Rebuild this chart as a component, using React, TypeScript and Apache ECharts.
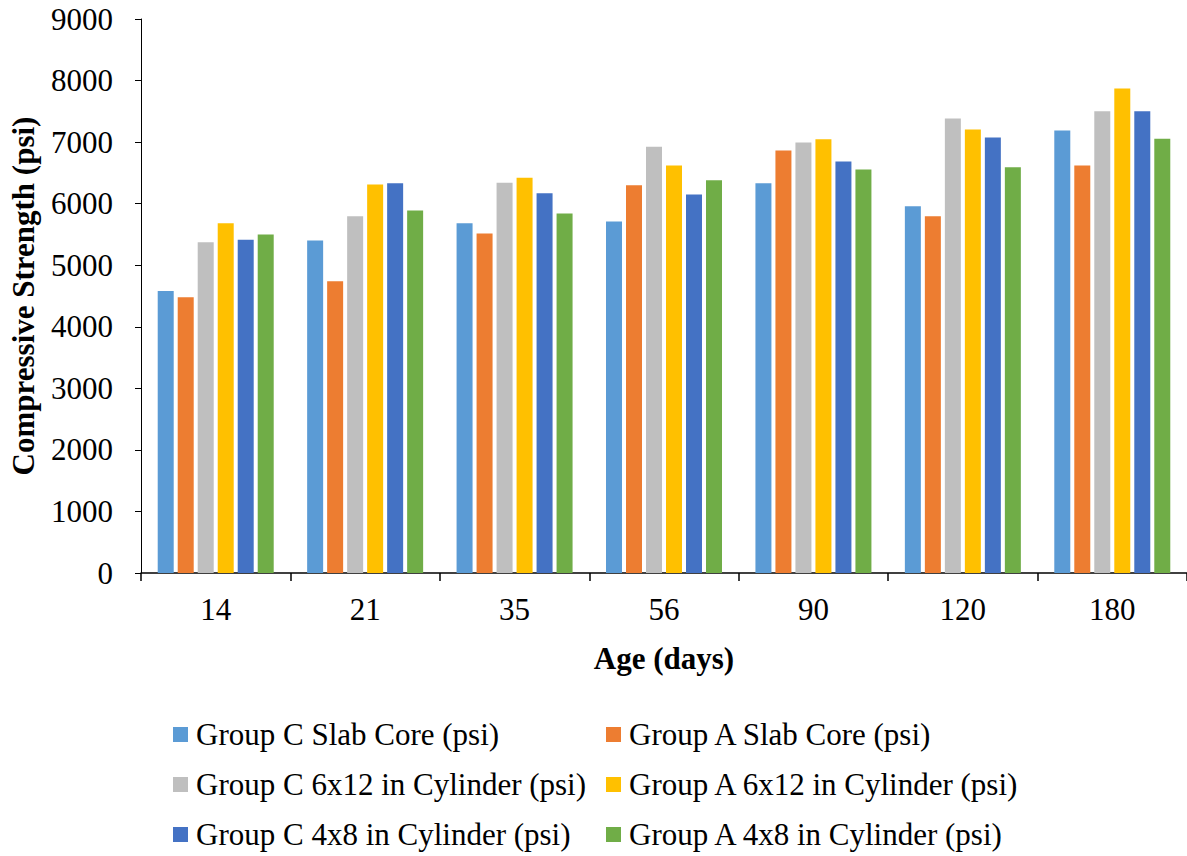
import React, { useEffect, useRef } from "react";
import * as echarts from "echarts";

const categories = ["14", "21", "35", "56", "90", "120", "180"];
const seriesNames = [
  "Group C Slab Core (psi)",
  "Group A Slab Core (psi)",
  "Group C 6x12 in Cylinder (psi)",
  "Group A 6x12 in Cylinder (psi)",
  "Group C 4x8 in Cylinder (psi)",
  "Group A 4x8 in Cylinder (psi)",
];
const colors = ["#5B9BD5", "#ED7D31", "#BFBFBF", "#FFC000", "#4472C4", "#70AD47"];

const groupCSlabCore = [4580, 5400, 5680, 5710, 6330, 5960, 7190];
const groupASlabCore = [4480, 4740, 5515, 6300, 6865, 5795, 6620];
const groupC6x12 = [5375, 5795, 6340, 6925, 6995, 7385, 7500];
const groupA6x12 = [5680, 6310, 6420, 6620, 7045, 7205, 7870];
const groupC4x8 = [5415, 6330, 6170, 6150, 6685, 7075, 7500];
const groupA4x8 = [5500, 5890, 5840, 6380, 6555, 6590, 7055];

const seriesValues = [groupCSlabCore, groupASlabCore, groupC6x12, groupA6x12, groupC4x8, groupA4x8];

const FONT = "'Liberation Serif', 'Times New Roman', serif";
const FS = 31;

export default function App() {
  const ref = useRef<HTMLDivElement>(null);
  useEffect(() => {
    if (!ref.current) return;
    const chart = echarts.init(ref.current, null, { renderer: "svg" });
    const legendPos = [
      { left: 173, top: 719 },
      { left: 606, top: 719 },
      { left: 173, top: 769 },
      { left: 606, top: 769 },
      { left: 173, top: 819 },
      { left: 606, top: 819 },
    ];
    chart.setOption({
      animation: false,
      backgroundColor: "#fff",
      textStyle: { fontFamily: FONT },
      grid: { left: 141, top: 19, width: 1050, height: 554, containLabel: false },
      legend: seriesNames.map((n, i) => ({
        data: [n],
        left: legendPos[i].left,
        top: legendPos[i].top,
        itemWidth: 15,
        itemHeight: 15,
        itemGap: 0,
        padding: 0,
        icon: "rect",
        selectedMode: false,
        textStyle: { fontFamily: FONT, fontSize: FS, lineHeight: 31, color: "#000", padding: [0, 0, 0, 3] },
      })),
      xAxis: {
        type: "category",
        data: categories,
        name: "Age (days)",
        nameLocation: "middle",
        nameGap: 70,
        nameTextStyle: { fontFamily: FONT, fontSize: FS, fontWeight: "bold", color: "#000" },
        axisLine: { lineStyle: { color: "#000", width: 1.5 } },
        axisTick: { show: true, length: 8, lineStyle: { color: "#000", width: 1.5 } },
        axisLabel: { fontFamily: FONT, fontSize: FS, color: "#000", margin: 21 },
      },
      yAxis: {
        type: "value",
        min: 0,
        max: 9000,
        interval: 1000,
        name: "Compressive Strength (psi)",
        nameLocation: "middle",
        nameGap: 102,
        nameTextStyle: { fontFamily: FONT, fontSize: FS, fontWeight: "bold", color: "#000" },
        axisLine: { show: true, lineStyle: { color: "#000", width: 1 } },
        axisTick: { show: true, length: 6, lineStyle: { color: "#000" } },
        axisLabel: { fontFamily: FONT, fontSize: FS, color: "#000", margin: 28, formatter: (v: number) => String(v) },
        splitLine: { show: false },
      },
      series: seriesNames.map((n, i) => ({
        name: n,
        type: "bar",
        data: seriesValues[i],
        barWidth: 16,
        barGap: "25%",
        itemStyle: { color: colors[i] },
      })),
    });
    return () => chart.dispose();
  }, []);
  return (
    <div
      ref={ref}
      style={{ position: "absolute", left: 0, top: 0, width: 1187, height: 856, background: "#fff" }}
    />
  );
}
